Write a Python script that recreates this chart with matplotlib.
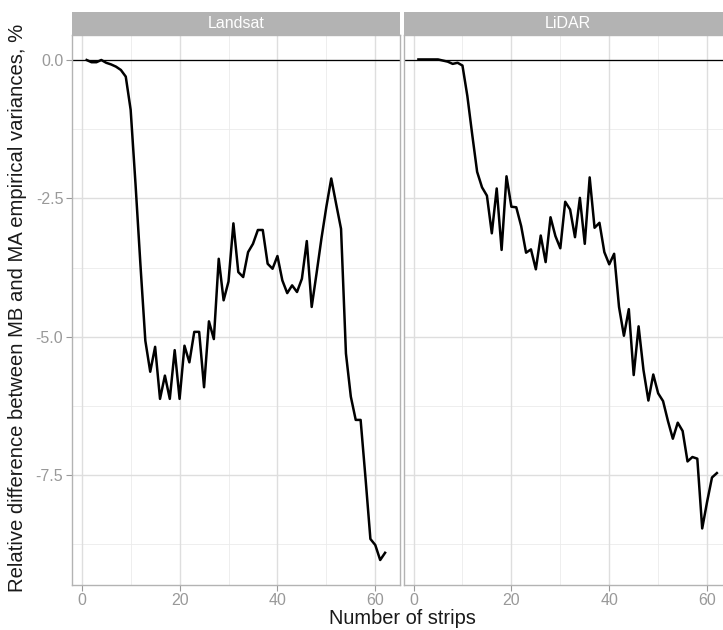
import matplotlib
matplotlib.use('Agg')
import matplotlib.pyplot as plt
import numpy as np

plt.rcParams['font.family'] = ['Liberation Sans', 'DejaVu Sans']

# data
strips = list(range(1, 63))

landsat = [0.0, -0.04, -0.04, 0.0, -0.05, -0.08, -0.12, -0.18, -0.30, -0.90,
           -2.25, -3.70, -5.07, -5.63, -5.18, -6.12, -5.70, -6.12, -5.24, -6.12,
           -5.16, -5.46, -4.91, -4.91, -5.91, -4.72, -5.04, -3.59, -4.34, -4.00,
           -2.95, -3.83, -3.92, -3.47, -3.32, -3.07, -3.07, -3.68, -3.77, -3.54,
           -3.98, -4.21, -4.07, -4.19, -3.95, -3.27, -4.46, -3.85, -3.22, -2.65,
           -2.14, -2.60, -3.05, -5.30, -6.08, -6.50, -6.50, -7.55, -8.65, -8.76,
           -9.03, -8.90]

lidar = [0.01, 0.01, 0.01, 0.01, 0.01, -0.01, -0.03, -0.07, -0.05, -0.10,
         -0.65, -1.35, -2.02, -2.30, -2.45, -3.13, -2.32, -3.43, -2.10, -2.65,
         -2.66, -3.00, -3.48, -3.42, -3.78, -3.17, -3.65, -2.84, -3.18, -3.40,
         -2.56, -2.70, -3.20, -2.49, -3.32, -2.12, -3.03, -2.94, -3.47, -3.69,
         -3.50, -4.46, -4.98, -4.50, -5.69, -4.81, -5.60, -6.15, -5.68, -6.02,
         -6.16, -6.52, -6.84, -6.55, -6.70, -7.25, -7.17, -7.20, -8.46, -7.98,
         -7.54, -7.46]

panels = ['Landsat', 'LiDAR']
series = [landsat, lidar]

x_ticks = [0, 20, 40, 60]
y_ticks = [0.0, -2.5, -5.0, -7.5]
y_tick_labels = ['0.0', '-2.5', '-5.0', '-7.5']

W, H = 723, 630
fig = plt.figure(figsize=(W / 100, H / 100), dpi=100)

# ggplot-like 5% expansion on shared scales
xmin, xmax = min(strips), max(strips)
xr = xmax - xmin
ymin = min(min(landsat), min(lidar))
ymax = 0.0
yr = ymax - ymin
xlim = (xmin - 0.05 * xr, xmax + 0.05 * xr)
ylim = (ymin - 0.05 * yr, ymax + 0.05 * yr)

panel_w = 328.3
panel_lefts = [71.7, 403.5]
panel_top, panel_bottom = 35.0, 585.0
strip_top = 11.5

border = '#B3B3B3'
grid_major = '#DEDEDE'
grid_minor = '#EBEBEB'
tick_col = '#999999'

for i, (name, vals) in enumerate(zip(panels, series)):
    left = panel_lefts[i]
    ax = fig.add_axes([left / W, (H - panel_bottom) / H, panel_w / W,
                       (panel_bottom - panel_top) / H])
    ax.set_xlim(*xlim)
    ax.set_ylim(*ylim)

    # grid
    for xv in [10, 30, 50]:
        ax.axvline(xv, color=grid_minor, lw=0.6, zorder=0)
    for yv in [-1.25, -3.75, -6.25, -8.75]:
        ax.axhline(yv, color=grid_minor, lw=0.6, zorder=0)
    for xv in x_ticks:
        ax.axvline(xv, color=grid_major, lw=1.0, zorder=0)
    for yv in y_ticks:
        ax.axhline(yv, color=grid_major, lw=1.0, zorder=0)

    ax.axhline(0, color='black', lw=0.9, zorder=2)
    ax.plot(strips, vals, color='black', lw=1.8, zorder=3)

    for sp in ax.spines.values():
        sp.set_color(border)
        sp.set_linewidth(1.0)

    ax.set_xticks(x_ticks)
    ax.set_xticklabels([str(t) for t in x_ticks])
    ax.tick_params(axis='x', colors=tick_col, labelcolor=tick_col,
                   labelsize=11.5, length=4, width=0.8, pad=2)
    if i == 0:
        ax.set_yticks(y_ticks)
        ax.set_yticklabels(y_tick_labels)
        ax.tick_params(axis='y', colors=tick_col, labelcolor=tick_col,
                       labelsize=11.5, length=4, width=0.8, pad=2)
    else:
        ax.set_yticks([])

    # facet strip
    sax = fig.add_axes([left / W, (H - panel_top) / H, panel_w / W,
                        (panel_top - strip_top) / H])
    sax.set_facecolor('#B3B3B3')
    sax.set_xticks([])
    sax.set_yticks([])
    for sp in sax.spines.values():
        sp.set_visible(False)
    sax.text(0.5, 0.48, name, color='white', fontsize=11.5,
             ha='center', va='center', transform=sax.transAxes)

fig.text(402 / W, (H - 619) / H, 'Number of strips', ha='center', va='center',
         fontsize=14.4, color='#1A1A1A')
fig.text(18 / W, (H - 308) / H,
         'Relative difference between MB and MA empirical variances, %',
         ha='center', va='center', rotation=90, fontsize=14.6, color='#1A1A1A')

fig.savefig('out.png', dpi=100)
